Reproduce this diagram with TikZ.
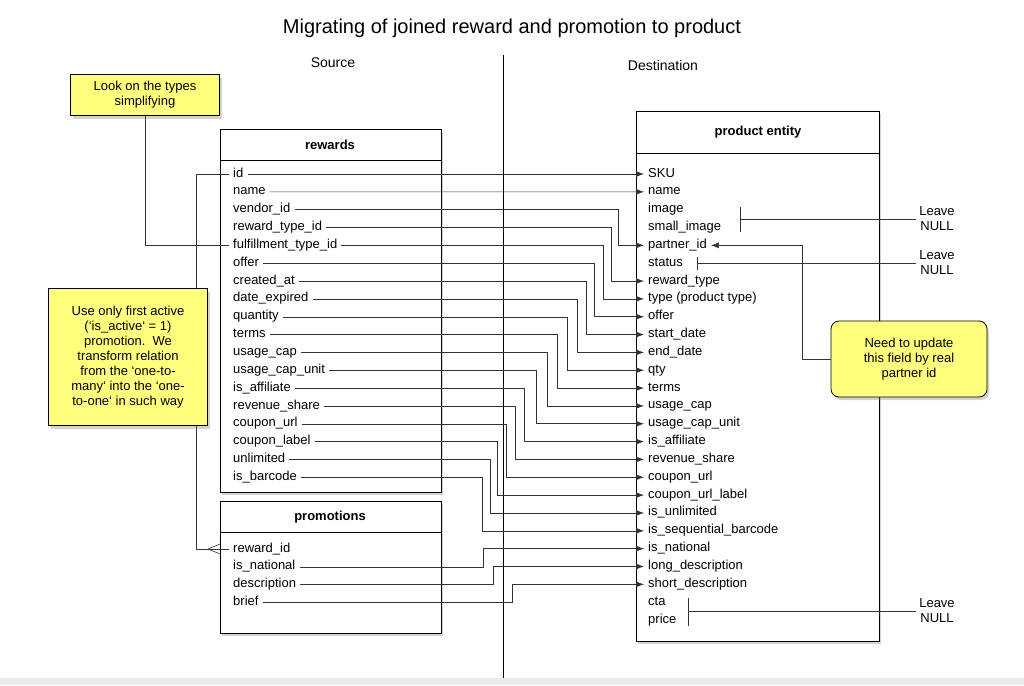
\documentclass[tikz,border=0pt]{standalone}
\usepackage{fontspec}
\setmainfont{Liberation Sans}
\usetikzlibrary{shadows,arrows.meta}
\definecolor{notefill}{RGB}{255,255,125}
\begin{document}
\begin{tikzpicture}[x=1pt,y=-1pt,font=\fontsize{13}{15}\selectfont]
      \tikzstyle{table}=[draw,thick,fill=white,drop shadow={shadow xshift=2pt,shadow yshift=-3pt,opacity=0.35}]
      \tikzstyle{note}=[draw,thick,fill=notefill,align=center,drop shadow={shadow xshift=2pt,shadow yshift=-3pt,opacity=0.35}]
      \tikzstyle{row}=[anchor=west,inner xsep=4pt,inner ysep=0pt,text height=9pt,text depth=3pt]
      \tikzstyle{flow}=[-{Latex[length=8pt,width=6pt]},semithick,black!80]
      \tikzstyle{link}=[semithick,black!80]
      \useasboundingbox (0,0) rectangle (1024,685);
      \fill[black!8] (0,678) rectangle (1024,685);
      \node (title) at (512,28) {\fontsize{20}{24}\selectfont Migrating of joined reward and promotion to product};
      \node (src) at (333,63) {\fontsize{14}{16}\selectfont Source};
      \node (dst) at (663,65) {\fontsize{14}{16}\selectfont Destination};
      \draw[thick] (503,55) -- (503,678);
      % tables
      \draw[table] (220,129) rectangle (441,492);
      \draw[thick] (220,160) -- (441,160);
      \node[font=\fontsize{13}{15}\selectfont\bfseries] (rewards) at (330,145) {rewards};
      \draw[table] (220,501) rectangle (441,633);
      \draw[thick] (220,532) -- (441,532);
      \node[font=\fontsize{13}{15}\selectfont\bfseries] (promotions) at (330,517) {promotions};
      \draw[table] (636,111) rectangle (879,641);
      \draw[thick] (636,153) -- (879,153);
      \node[font=\fontsize{13}{15}\selectfont\bfseries] (product) at (758,132) {product entity};
      % rows
      \foreach \t [count=\i from 0] in {id,name,vendor\_id,reward\_type\_id,fulfillment\_type\_id,offer,created\_at,date\_expired,quantity,terms,usage\_cap,usage\_cap\_unit,is\_affiliate,revenue\_share,coupon\_url,coupon\_label,unlimited,is\_barcode}
        {\node[row] at (229,{174+17.85*\i}) (r\i) {\t};}
      \foreach \t [count=\i from 0] in {reward\_id,is\_national,description,brief}
        {\node[row] at (229,{549+17.85*\i}) (q\i) {\t};}
      \foreach \t [count=\j from 0] in {SKU,name,image,small\_image,partner\_id,status,reward\_type,type (product type),offer,start\_date,end\_date,qty,terms,usage\_cap,usage\_cap\_unit,is\_affiliate,revenue\_share,coupon\_url,coupon\_url\_label,is\_unlimited,is\_sequential\_barcode,is\_national,long\_description,short\_description,cta,price}
        {\node[row] at (644,{174+17.84*\j}) (p\j) {\t};}
      % connectors
      \draw[flow] (r0.east) -- (p0.west);
      \draw[flow] (r1.east) -- (p1.west);
      \foreach \i/\j/\bx in {2/4/618,3/6/611,4/7/603,5/8/594,6/9/586,7/10/577,8/11/567,9/12/557,10/13/547,11/14/536,12/15/524,13/16/515,14/17/506,15/18/497,16/19/490,17/20/482}
        {\draw[flow] (r\i.east) -- (\bx,{174+17.85*\i}) |- (p\j.west);}
      \foreach \i/\j/\bx in {1/21/483,2/22/493,3/23/512}
        {\draw[flow] (q\i.east) -- (\bx,{549+17.85*\i}) |- (p\j.west);}
      % relation rewards -> promotions
      \draw[link] (r0.west) -| (196,549) -- (q0.west);
      \draw[link] (208,549) -- (220,544) (208,549) -- (220,554);
      % notes
      \node[note,minimum width=149pt,minimum height=41pt] (types) at (145,95) {Look on the types\\simplifying};
      \draw[link] (types.south) |- (r4.west);
      \node[note,minimum width=159pt,minimum height=137pt] (active) at (128,357) {Use only first active\\(`is\_active` = 1)\\promotion.\ \ We\\transform relation\\from the `one-to-\\many` into the `one-\\to-one` in such way};
      \node[note,rounded corners=8pt,minimum width=156pt,minimum height=76pt] (partner) at (909,359) {Need to update\\this field by real\\partner id};
      \draw[flow] (partner.west) -- (802,359) |- (p4.east);
      % leave null
      \node[align=center] (nullA) at (937,219) {Leave\\NULL};
      \node[align=center] (nullB) at (937,263) {Leave\\NULL};
      \node[align=center] (nullC) at (937,611) {Leave\\NULL};
      \coordinate (tickA) at (740,219);
      \coordinate (tickB) at (697,263);
      \coordinate (tickC) at (688,611);
      \draw[link] (nullA.west) -- (tickA) (740,207) -- (740,232);
      \draw[link] (nullB.west) -- (tickB) (697,257) -- (697,270);
      \draw[link] (nullC.west) -- (tickC) (688,598) -- (688,626);
    \end{tikzpicture}
\end{document}
